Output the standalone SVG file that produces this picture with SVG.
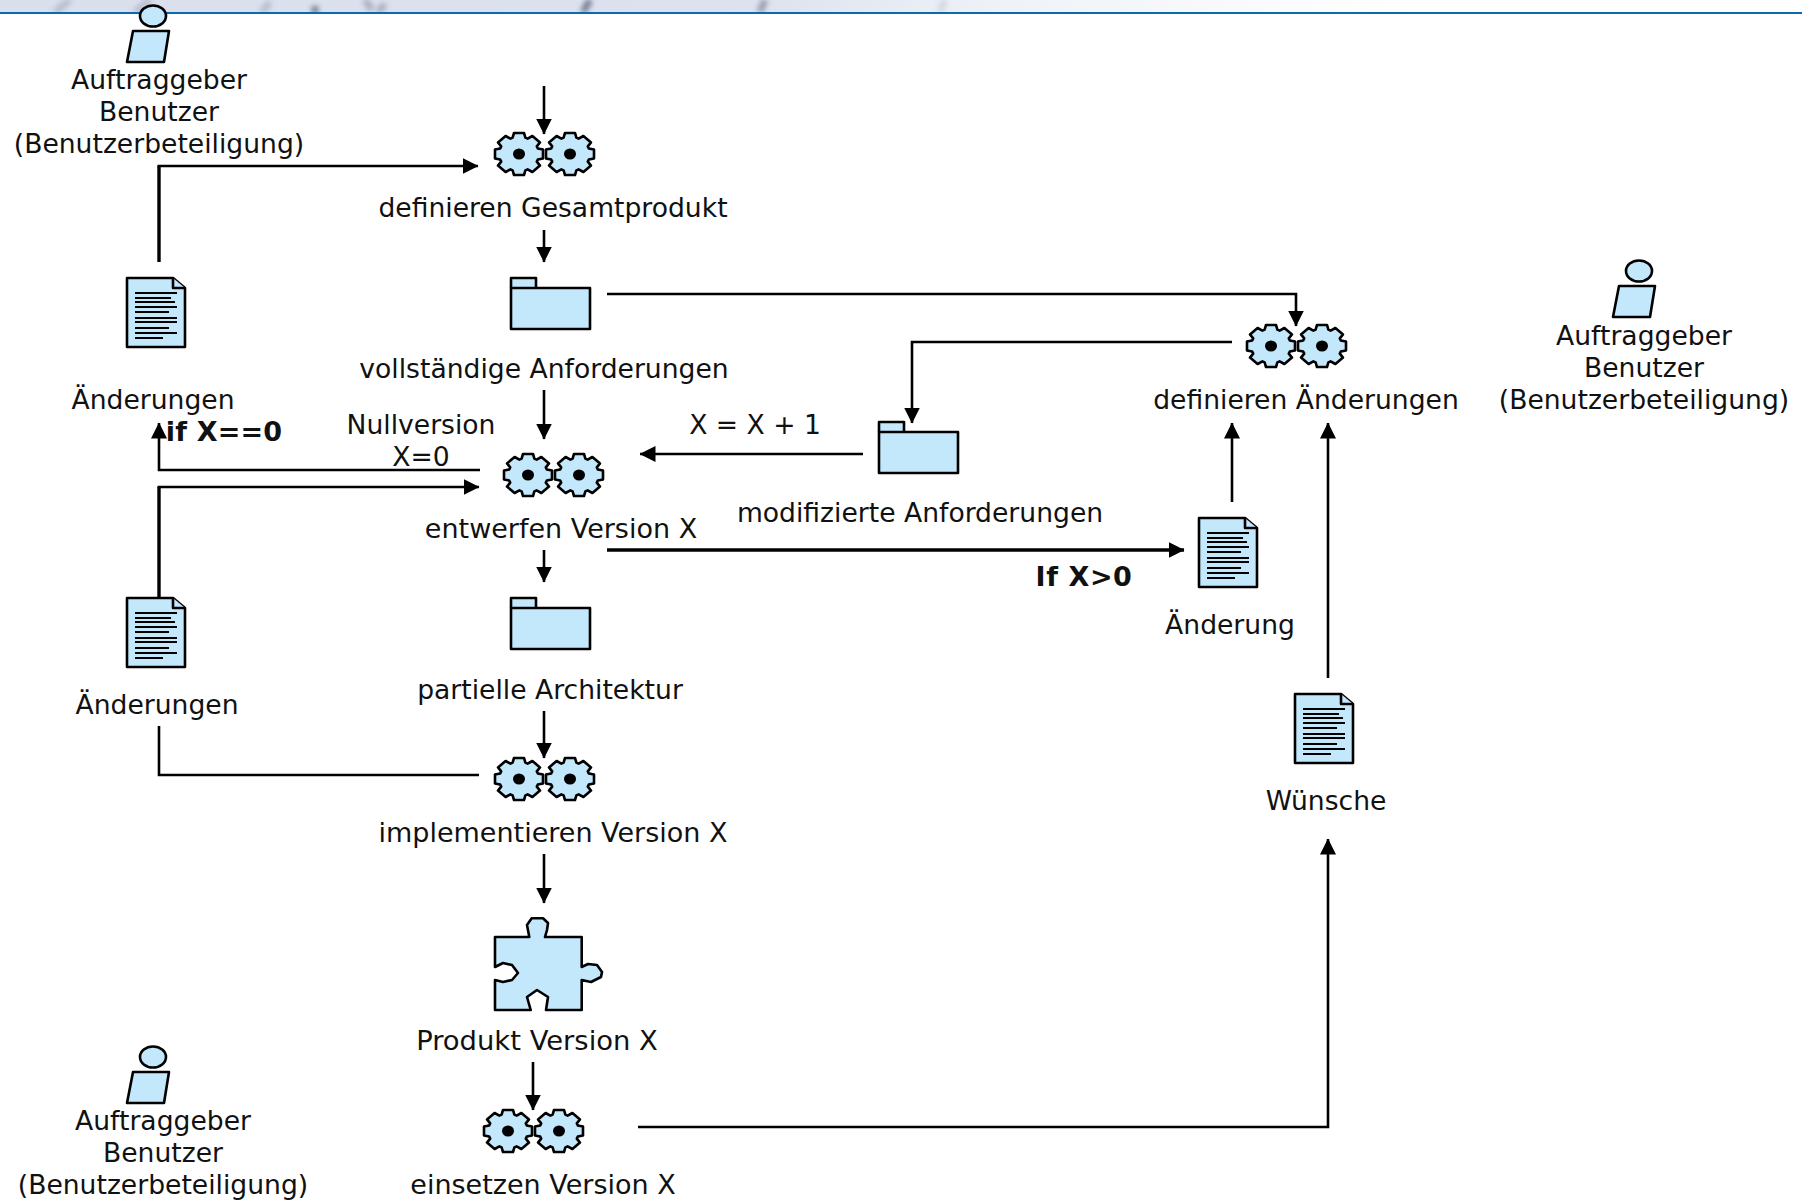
<svg xmlns="http://www.w3.org/2000/svg" width="1802" height="1200" viewBox="0 0 1802 1200">
<style>
text{font-family:"DejaVu Sans",Verdana,sans-serif;font-size:26.6px;fill:#111;text-anchor:middle}
.w{font-size:27px}
.w2{font-size:27.4px}
.b{font-weight:bold;font-size:27px;letter-spacing:.6px}
.b2{letter-spacing:.2px}
.s{fill:#c4e8fb;stroke:#000;stroke-width:2.6;stroke-linejoin:round}
.l{fill:none;stroke:#000;stroke-width:1.8}
.c{fill:none;stroke:#000;stroke-width:2.6}
.t{stroke-width:3.4}
.st{fill:none;stroke:#7d8298;stroke-width:7}
</style>
<defs>
<linearGradient id="h" x1="0" x2="1" y1="0" y2="0"><stop offset="0" stop-color="#d9dfeb"/><stop offset="0.42" stop-color="#dde2ee"/><stop offset="0.55" stop-color="#eef2f7"/><stop offset="0.72" stop-color="#fbfcfd"/><stop offset="0.78" stop-color="#fff"/></linearGradient>
<filter id="blur" x="-50%" y="-50%" width="200%" height="200%"><feGaussianBlur stdDeviation="2.5"/></filter>
<clipPath id="band"><rect width="1802" height="12"/></clipPath>
<marker id="a" markerWidth="16" markerHeight="16" refX="15.5" refY="8" orient="auto" markerUnits="userSpaceOnUse"><path d="M0 0L16 8L0 16Z"/></marker>
<g id="gear"><path class="s" d="M24 -4.400L24 4.400L18.800 5.600L17.800 7.600L21 11.600L13.400 18L8.600 15.400L6.400 16.400L5 21L-5 21L-6.400 16.400L-8.600 15.400L-13.400 18L-21 11.600L-17.800 7.600L-18.800 5.600L-24 4.400L-24 -4.400L-18.800 -5.600L-17.800 -7.600L-21 -11.600L-13.400 -18L-8.600 -15.400L-6.400 -16.400L-5 -21L5 -21L6.400 -16.400L8.600 -15.400L13.400 -18L21 -11.600L17.800 -7.600L18.800 -5.600Z"/><ellipse cx="0" cy="0" rx="6" ry="5.500"/></g>
<g id="gears"><use href="#gear"/><use href="#gear" x="51"/></g>
<g id="actor"><ellipse class="s" cx="0" cy="0" rx="13" ry="10.500"/><path class="s" d="M-20 15H16L11 46H-26Z"/></g>
<g id="doc"><path class="s" d="M0 0H46L58 10V69H0Z"/><path class="s" d="M46 0V10H58"/><path class="l" d="M8 15H50M8 20H44M8 24H48M8 29H50M8 34H42M8 40H50M8 44H50M8 50H42M8 55H50M8 60H36"/></g>
<g id="folder"><path class="s" d="M0 10V0H25V10"/><rect class="s" y="10" width="79" height="41"/></g>
</defs>
<g id="header"><rect width="1802" height="12" fill="url(#h)"/>
<g clip-path="url(#band)"><g filter="url(#blur)"><path class="st" d="M70 0L55 12M150 0L135 12M270 2L262 12" opacity=".35"/><path class="st" d="M315 6V14" stroke="#555a70"/><path class="st" d="M385 4L378 12M365 0L372 10" opacity=".5"/><path class="st" d="M590 0L583 12"/><path class="st" d="M765 0L760 12" opacity=".7"/><path class="st" d="M945 0L940 12" opacity=".2"/></g></g>
<rect y="12" width="1802" height="2" fill="#0a6aad"/></g>
<g id="connectors">
<path class="c" d="M544 86V134" marker-end="url(#a)"/>
<path class="c t" d="M159 262V166"/><path class="c" d="M157.500 166H478" marker-end="url(#a)"/>
<path class="c" d="M544 230V262" marker-end="url(#a)"/>
<path class="c" d="M607 294H1296V326" marker-end="url(#a)"/>
<path class="c" d="M1232 342H912V423" marker-end="url(#a)"/>
<path class="c" d="M544 390V439" marker-end="url(#a)"/>
<path class="c" d="M863 454H640" marker-end="url(#a)"/>
<path class="c" d="M480 470H159V423" marker-end="url(#a)"/>
<path class="c t" d="M159 598V487"/><path class="c" d="M157.500 487H479" marker-end="url(#a)"/>
<path class="c" d="M544 550V582" marker-end="url(#a)"/>
<path class="c t" d="M607 550H1184" marker-end="url(#a)"/>
<path class="c" d="M1232 502V423" marker-end="url(#a)"/>
<path class="c" d="M1328 678V423" marker-end="url(#a)"/>
<path class="c" d="M544 711V758" marker-end="url(#a)"/>
<path class="c" d="M479 775H159V726"/>
<path class="c" d="M544 854V903" marker-end="url(#a)"/>
<path class="c" d="M533 1062V1110" marker-end="url(#a)"/>
<path class="c" d="M638 1127H1328V839" marker-end="url(#a)"/>
</g>
<g id="actor1"><use href="#actor" x="153" y="16"/><text x="159" y="89">Auftraggeber</text><text x="159" y="121">Benutzer</text><text x="159" y="153">(Benutzerbeteiligung)</text></g>
<g id="actor2"><use href="#actor" x="1639" y="271"/><text x="1644" y="345">Auftraggeber</text><text x="1644" y="377">Benutzer</text><text x="1644" y="409">(Benutzerbeteiligung)</text></g>
<g id="actor3"><use href="#actor" x="153" y="1057"/><text x="163" y="1130">Auftraggeber</text><text x="163" y="1162">Benutzer</text><text x="163" y="1194">(Benutzerbeteiligung)</text></g>
<g id="doc1"><use href="#doc" x="127" y="278"/><text x="153" y="409">Änderungen</text></g>
<g id="doc2"><use href="#doc" x="127" y="598"/><text x="157" y="714">Änderungen</text></g>
<g id="doc3"><use href="#doc" x="1199" y="518"/><text x="1230" y="634">Änderung</text></g>
<g id="doc4"><use href="#doc" x="1295" y="694"/><text x="1326" y="810">Wünsche</text></g>
<g id="p1"><use href="#gears" x="519" y="154"/><text x="553" y="217">definieren Gesamtprodukt</text></g>
<g id="f1"><use href="#folder" x="511" y="278"/><text x="544" y="378">vollständige Anforderungen</text></g>
<g id="p2"><use href="#gears" x="528" y="475"/><text class="w" x="561" y="538">entwerfen Version X</text></g>
<g id="f2"><use href="#folder" x="511" y="598"/><text x="550" y="699">partielle Architektur</text></g>
<g id="p3"><use href="#gears" x="519" y="779"/><text class="w" x="553" y="842">implementieren Version X</text></g>
<g id="p4"><use href="#gears" x="1271" y="346"/><text x="1306" y="409">definieren Änderungen</text></g>
<g id="f3"><use href="#folder" x="879" y="422"/><text x="920" y="522">modifizierte Anforderungen</text></g>
<g id="puzzle"><path class="s" d="M495 937H529.300L527 925L531.700 918.300H543L548 923L547 930L545 937H581.700V967L588 964L597 965L602 972L601 977L591 982L581.700 980V1010H546L548 997L537 990L527 997L530.700 1010H495V980L503 982L512 980L518 973L512 965L503 963L495 967Z"/><text class="w2" x="537" y="1050">Produkt Version X</text></g>
<g id="p5"><use href="#gears" x="508" y="1131"/><text class="w" x="543" y="1194">einsetzen Version X</text></g>
<g id="labels">
<text x="421" y="434">Nullversion</text><text x="421" y="466">X=0</text>
<text x="755" y="434">X = X + 1</text>
<text class="b b2" x="224" y="441">if X==0</text>
<text class="b" x="1084" y="586">If X&gt;0</text>
</g>
</svg>
